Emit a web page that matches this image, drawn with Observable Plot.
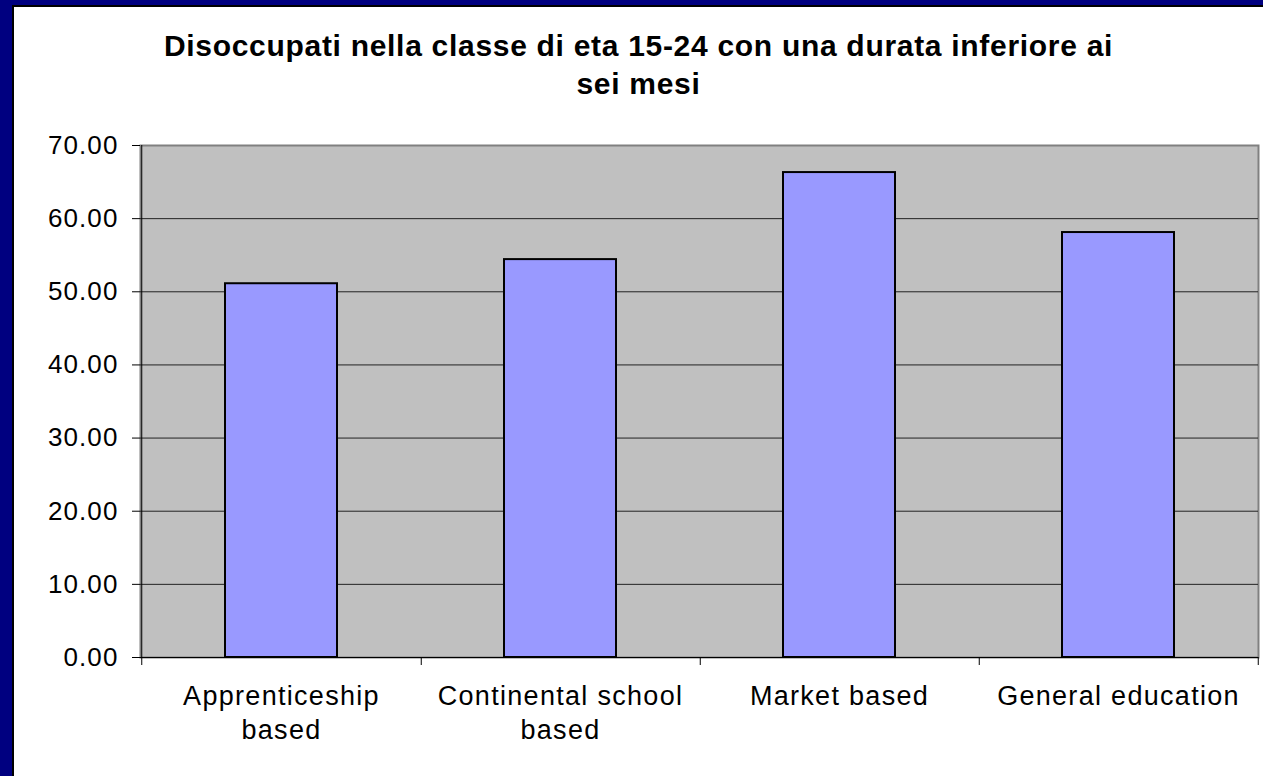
<!DOCTYPE html>
<html>
<head>
<meta charset="utf-8">
<script src="https://cdn.jsdelivr.net/npm/d3@7"></script>
<script src="https://cdn.jsdelivr.net/npm/@observablehq/plot@0.6"></script>
<style>
  html, body { margin: 0; padding: 0; background: #000080; }
  #page { position: relative; width: 1263px; height: 776px; overflow: hidden; background: #000080; font-family: "Liberation Sans", Arial, sans-serif; }
  #inner { position: absolute; left: 12px; top: 5px; right: -10px; bottom: -10px; background: #fff; border-left: 2px solid #000; border-top: 2px solid #000; }
  #title { position: absolute; left: 14px; top: 27px; width: 1249px; text-align: center; font-weight: bold; font-size: 30px; letter-spacing: 0.7px; line-height: 38px; color: #000; }
  #chart { position: absolute; left: 0; top: 120px; }
  #chart svg { background: transparent; overflow: visible; }
  #chart g[aria-label="y-axis tick label"] text { letter-spacing: 1.1px; }
  #chart g[aria-label="x-axis tick label"] text { letter-spacing: 1.3px; }
</style>
</head>
<body>
<div id="page">
  <div id="inner"></div>
  <div id="title">Disoccupati nella classe di eta 15-24 con una durata inferiore ai<br>sei mesi</div>
  <div id="chart"></div>
</div>
<script>
const categories = ["Apprenticeship based", "Continental school based", "Market based", "General education"];
const categoryLabels = ["Apprenticeship\nbased", "Continental school\nbased", "Market based", "General education"];
const values = [51.1, 54.4, 66.3, 58.1];
const yTicks = [0, 10, 20, 30, 40, 50, 60, 70];
const gridTicks = [10, 20, 30, 40, 50, 60];

const data = categories.map((c, i) => ({category: c, value: values[i]}));
const labelOf = new Map(categories.map((c, i) => [c, categoryLabels[i]]));

const W = 1263, H = 656, mL = 140, mR = 5, mT = 25, mB = 119;
const halfStep = (W - mL - mR) / categories.length / 2;

const chart = Plot.plot({
  width: W,
  height: H,
  marginLeft: mL,
  marginRight: mR,
  marginTop: mT,
  marginBottom: mB,
  style: {background: "transparent", fontFamily: "Liberation Sans, Arial, sans-serif", color: "#000", overflow: "visible"},
  x: {domain: categories, paddingInner: 0.6, paddingOuter: 0.3, label: null},
  y: {domain: [0, 70], label: null},
  marks: [
    Plot.frame({fill: "#c0c0c0", stroke: "#808080", strokeWidth: 2}),
    Plot.ruleY(gridTicks, {stroke: "#222", strokeWidth: 1}),
    Plot.barY(data, {x: "category", y: "value", fill: "#9999ff", stroke: "#000", strokeWidth: 2}),
    Plot.ruleY([0], {stroke: "#000", strokeWidth: 1}),
    Plot.ruleX([categories[0]], {x: d => d, y1: 70, y2: 0, dx: -halfStep, insetBottom: -8, stroke: "#000", strokeWidth: 1}),
    Plot.ruleX(categories, {x: d => d, y1: 0, y2: 0, dx: halfStep, insetBottom: -8, stroke: "#000", strokeWidth: 1}),
    Plot.axisY({ticks: yTicks, tickFormat: d => d.toFixed(2), tickSize: 8, tickPadding: 14, fontSize: 26, stroke: "#000", strokeOpacity: 1, label: null}),
    Plot.axisX({tickSize: 0, tickPadding: 23, fontSize: 27, lineHeight: 1.27, tickFormat: d => labelOf.get(d), label: null})
  ]
});
document.getElementById("chart").appendChild(chart);
</script>
</body>
</html>
